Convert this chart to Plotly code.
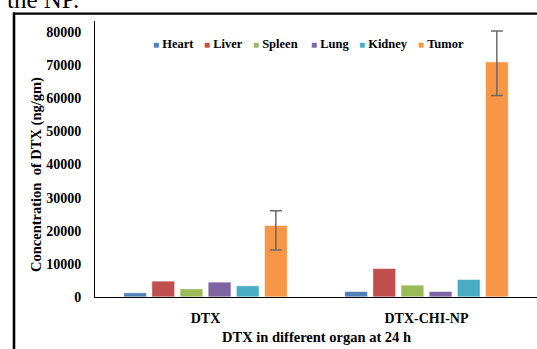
import plotly.graph_objects as go

groups = ["DTX", "DTX-CHI-NP"]
organs = ["Heart", "Liver", "Spleen", "Lung", "Kidney", "Tumor"]
colors = ["#4F81BD", "#C0504D", "#9BBB59", "#8064A2", "#4BACC6", "#F79646"]
values = {
    "Heart": [1300, 1720],
    "Liver": [4830, 8660],
    "Spleen": [2500, 3620],
    "Lung": [4530, 1720],
    "Kidney": [3410, 5340],
    "Tumor": [21650, 71000],
}
tumor_err_plus = [4400, 9300]
tumor_err_minus = [7450, 10200]
yticks = [0, 10000, 20000, 30000, 40000, 50000, 60000, 70000, 80000]

W, H = 537, 349
ML, MR, MT, MB = 95, 0, 21, 52
PW, PH = W - ML - MR, H - MT - MB

def px2x(p):
    return (p - ML) / PW

def px2y(p):
    return (H - MB - p) / PH

SERIF = "Liberation Serif"

fig = go.Figure()
for name, col in zip(organs, colors):
    kw = {}
    if name == "Tumor":
        kw["error_y"] = dict(type="data", symmetric=False, array=tumor_err_plus,
                             arrayminus=tumor_err_minus, color="#6b6b6b",
                             thickness=1.5, width=6)
    fig.add_trace(go.Bar(name=name, x=groups, y=values[name],
                         marker=dict(color=col, line=dict(color="white", width=0.8)),
                         showlegend=False, **kw))

# legend drawn as text with coloured squares
leg_x = [152, 203, 252, 310, 358, 417]
annotations = []
for name, col, lx in zip(organs, colors, leg_x):
    annotations.append(dict(
        x=px2x(lx - 1), y=px2y(43.5), xref="paper", yref="paper",
        xanchor="left", yanchor="middle", showarrow=False,
        text=f'<span style="color:{col};font-size:10px">■</span> <b>{name}</b>',
        font=dict(family=SERIF, size=12.5, color="black")))

annotations.append(dict(
    x=px2x(316), y=px2y(337), xref="paper", yref="paper", xanchor="center", yanchor="middle",
    showarrow=False, text="<b>DTX in different organ at 24 h</b>",
    font=dict(family=SERIF, size=14.5, color="black")))
annotations.append(dict(
    x=px2x(36), y=px2y(175), xref="paper", yref="paper", xanchor="center", yanchor="middle",
    showarrow=False, textangle=-90, text="<b>Concentration&nbsp;&nbsp;of DTX (ng/gm)</b>",
    font=dict(family=SERIF, size=14.5, color="black")))
annotations.append(dict(
    x=px2x(81), y=px2y(-1), xref="paper", yref="paper", xanchor="right", yanchor="middle",
    showarrow=False, text="the NP.",
    font=dict(family=SERIF, size=25, color="black")))

shapes = [
    dict(type="line", xref="paper", yref="paper", x0=px2x(13), x1=px2x(560),
         y0=px2y(13.7), y1=px2y(13.7), line=dict(color="black", width=2.2)),
    dict(type="line", xref="paper", yref="paper", x0=px2x(14), x1=px2x(14),
         y0=px2y(12.6), y1=px2y(370), line=dict(color="black", width=2.6)),
]

fig.update_layout(
    width=W, height=H,
    margin=dict(l=ML, r=MR, t=MT, b=MB),
    paper_bgcolor="white", plot_bgcolor="white",
    barmode="group", bargap=0.236, bargroupgap=0.18,
    annotations=annotations, shapes=shapes,
    xaxis=dict(showline=True, linecolor="black", linewidth=1, showgrid=False,
               ticks="", ticklabelstandoff=8,
               tickfont=dict(family=SERIF, size=14, color="black", weight="bold")),
    yaxis=dict(range=[0, 80000 * PH / 265], tickvals=yticks,
               ticktext=[str(v) for v in yticks],
               showline=True, linecolor="black", linewidth=1, showgrid=False,
               ticks="", ticklabelstandoff=10, zeroline=False,
               tickfont=dict(family=SERIF, size=14, color="black", weight="bold")),
)

fig.write_html("out.html")
